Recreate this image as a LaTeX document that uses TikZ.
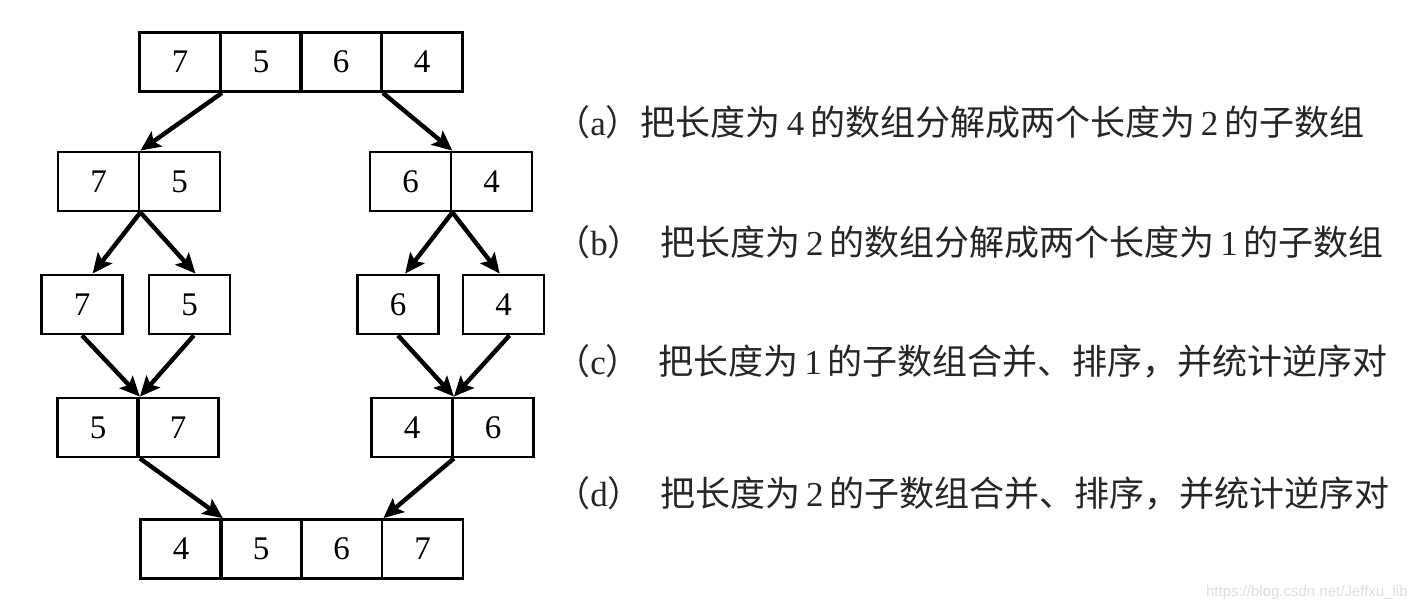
\documentclass[tikz,border=0pt]{standalone}
\usepackage{fontspec}
\setmainfont{Liberation Serif}
\setsansfont{Liberation Sans}
\newfontfamily\mergeCjk{Noto Sans CJK SC}
\usetikzlibrary{arrows.meta}
\newcommand{\mergeNum}[1]{\,{\rmfamily #1}\,}
\newcommand{\mergeTag}[1]{{\mergeCjk （}{\rmfamily #1}{\mergeCjk ）}}

\begin{document}
\begin{tikzpicture}[x=0.5pt,y=-0.5pt,
  mergeCell/.style={draw, line width=1.4pt, minimum width=40.5pt, minimum height=29.5pt, inner sep=0pt, font=\fontsize{16.5}{16.5}\selectfont},
  mergeArrow/.style={line width=2.2pt, -{Stealth[length=10pt,width=9pt,inset=2pt]}},
  mergeNote/.style={anchor=west, inner sep=0pt, text=black!85, font=\mergeCjk\fontsize{17.5}{17.5}\selectfont}]
\fill[white] (0,0) rectangle (1420,612);
\useasboundingbox (0,0) rectangle (1420,612);
\node[mergeCell] (a1) at (180,62) {7};
\node[mergeCell] (a2) at (261,62) {5};
\node[mergeCell] (a3) at (341,62) {6};
\node[mergeCell] (a4) at (422,62) {4};
\node[mergeCell] (b1) at (98.5,181.5) {7};
\node[mergeCell] (b2) at (179.5,181.5) {5};
\node[mergeCell] (b3) at (410.5,181.5) {6};
\node[mergeCell] (b4) at (491.5,181.5) {4};
\node[mergeCell] (c1) at (82,304.5) {7};
\node[mergeCell] (c2) at (189.5,304.5) {5};
\node[mergeCell] (c3) at (398,304.5) {6};
\node[mergeCell] (c4) at (503.5,304.5) {4};
\node[mergeCell] (d1) at (98,427.5) {5};
\node[mergeCell] (d2) at (178,427.5) {7};
\node[mergeCell] (d3) at (412,427.5) {4};
\node[mergeCell] (d4) at (493,427.5) {6};
\node[mergeCell] (e1) at (181,549) {4};
\node[mergeCell] (e2) at (261,549) {5};
\node[mergeCell] (e3) at (341.5,549) {6};
\node[mergeCell] (e4) at (422.5,549) {7};
\draw[mergeArrow] (a1.south east) -- (b1.north east);
\draw[mergeArrow] (a3.south east) -- (b3.north east);
\draw[mergeArrow] (b1.south east) -- (c1.71);
\draw[mergeArrow] (b1.south east) -- (c2.79);
\draw[mergeArrow] (b3.south east) -- (c3.77);
\draw[mergeArrow] (b3.south east) -- (c4.97);
\draw[mergeArrow] (c1.south) -- (d1.north east);
\draw[mergeArrow] (c2.-82) -- (d1.north east);
\draw[mergeArrow] (c3.south) -- (d3.north east);
\draw[mergeArrow] (c4.-79) -- (d3.north east);
\draw[mergeArrow] (d1.south east) -- (e1.north east);
\draw[mergeArrow] (d3.south east) -- (e3.north east);
\node[mergeNote] (na) at (555,122) {\mergeTag{a}把长度为\mergeNum{4}的数组分解成两个长度为\mergeNum{2}的子数组};
\node[mergeNote] (nb) at (555,242) {\mergeTag{b}\enspace 把长度为\mergeNum{2}的数组分解成两个长度为\mergeNum{1}的子数组};
\node[mergeNote] (nc) at (555,361) {\mergeTag{c}\enspace 把长度为\mergeNum{1}的子数组合并、排序，并统计逆序对};
\node[mergeNote] (nd) at (555,493) {\mergeTag{d}\enspace 把长度为\mergeNum{2}的子数组合并、排序，并统计逆序对};
\node[anchor=east, inner sep=0pt, text=black!12, font=\sffamily\fontsize{7.5}{7.5}\selectfont] (web) at (1408,593) {https://blog.csdn.net/Jeffxu\_lib};
\end{tikzpicture}
\end{document}
